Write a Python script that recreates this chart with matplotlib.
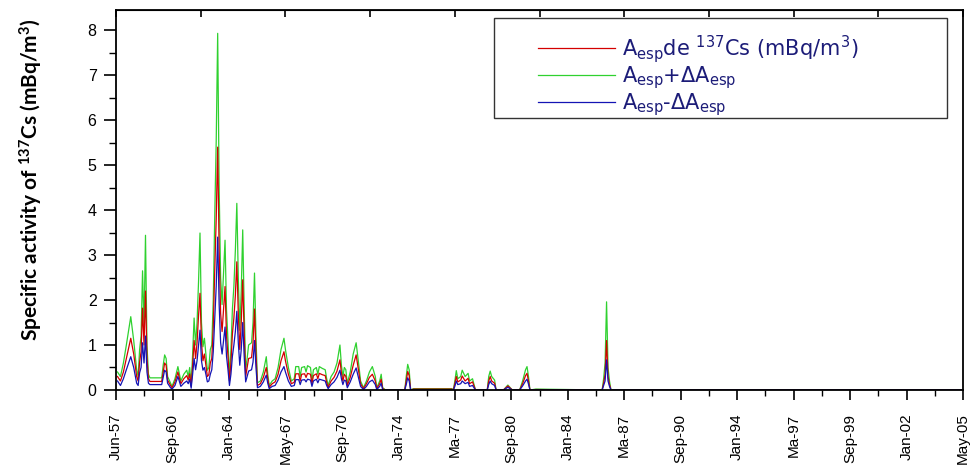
import numpy as np
import matplotlib.pyplot as plt
from matplotlib.patches import Rectangle

# month index counted from Jun-57
months = [1, 3, 5, 7, 10, 12, 14, 15, 16, 17, 18, 19, 20, 21, 22, 23, 31, 32, 33, 34,
          35, 37, 38, 40, 42, 44, 46, 48, 49, 50, 51, 52, 53, 54, 55, 56, 57, 58, 59, 60,
          61, 62, 63, 64, 65, 66, 67, 68, 69, 70, 71, 72, 73, 74, 75, 76, 77, 78, 79, 80,
          81, 82, 83, 84, 85, 86, 87, 88, 89, 90, 92, 93, 94, 95, 96, 98, 100, 102, 103, 104,
          106, 108, 110, 112, 114, 115, 117, 119, 121, 122, 124, 125, 126, 128, 129, 130, 132, 133, 134, 136,
          137, 138, 140, 142, 143, 144, 146, 148, 150, 152, 153, 154, 155, 156, 157, 159, 161, 163, 165, 166,
          168, 170, 172, 174, 176, 177, 179, 180, 181, 183, 196, 197, 198, 199, 200, 202, 228, 229, 230, 231,
          232, 234, 235, 237, 239, 240, 242, 244, 252, 253, 254, 255, 257, 258, 263, 266, 269, 274, 276, 278,
          279, 280, 281, 285, 330, 331, 332, 333, 334, 335, 336, 575]

a_up = [0.40, 0.30, 0.60, 1.00, 1.63, 1.10, 0.45, 0.30, 0.90, 1.20, 2.65, 1.40, 3.44, 1.00, 0.35, 0.27, 0.27, 0.55, 0.78, 0.70,
        0.30, 0.15, 0.08, 0.25, 0.52, 0.20, 0.35, 0.44, 0.30, 0.50, 0.12, 0.80, 1.60, 1.00, 1.50, 2.40, 3.49, 1.50, 0.96, 1.15,
        0.80, 0.44, 0.50, 0.90, 1.00, 2.00, 3.85, 5.52, 7.93, 4.50, 2.50, 1.90, 2.60, 3.33, 1.78, 1.10, 0.30, 0.90, 1.80, 2.30,
        3.10, 4.15, 2.50, 1.33, 2.20, 3.56, 1.80, 0.44, 0.70, 1.00, 1.05, 1.50, 2.60, 1.20, 0.16, 0.20, 0.40, 0.74, 0.35, 0.10,
        0.20, 0.25, 0.50, 0.90, 1.15, 0.90, 0.50, 0.20, 0.25, 0.52, 0.52, 0.30, 0.50, 0.52, 0.40, 0.54, 0.50, 0.20, 0.45, 0.50,
        0.35, 0.52, 0.48, 0.45, 0.25, 0.10, 0.30, 0.40, 0.60, 1.00, 0.55, 0.30, 0.50, 0.45, 0.15, 0.40, 0.80, 1.05, 0.50, 0.20,
        0.05, 0.20, 0.40, 0.52, 0.30, 0.05, 0.20, 0.35, 0.05, 0.00, 0.00, 0.30, 0.57, 0.45, 0.00, 0.03, 0.03, 0.00, 0.20, 0.43,
        0.25, 0.30, 0.44, 0.30, 0.37, 0.20, 0.25, 0.00, 0.00, 0.30, 0.42, 0.30, 0.22, 0.00, 0.00, 0.11, 0.00, 0.00, 0.20, 0.45,
        0.52, 0.30, 0.00, 0.02, 0.00, 0.25, 0.60, 1.96, 0.50, 0.20, 0.00, 0.00]

a_mid = [0.30, 0.20, 0.40, 0.70, 1.15, 0.80, 0.30, 0.20, 0.62, 0.85, 1.82, 1.00, 2.20, 0.70, 0.25, 0.19, 0.19, 0.40, 0.60, 0.55,
         0.22, 0.10, 0.05, 0.18, 0.40, 0.14, 0.25, 0.32, 0.22, 0.36, 0.08, 0.55, 1.10, 0.70, 1.05, 1.65, 2.15, 1.05, 0.65, 0.80,
         0.55, 0.30, 0.34, 0.60, 0.70, 1.40, 2.65, 3.80, 5.40, 3.10, 1.70, 1.30, 1.80, 2.30, 1.20, 0.75, 0.20, 0.60, 1.25, 1.60,
         2.10, 2.85, 1.70, 0.90, 1.50, 2.45, 1.25, 0.30, 0.50, 0.70, 0.72, 1.05, 1.80, 0.80, 0.10, 0.14, 0.28, 0.50, 0.25, 0.06,
         0.14, 0.18, 0.35, 0.65, 0.85, 0.65, 0.35, 0.14, 0.17, 0.36, 0.36, 0.20, 0.35, 0.36, 0.28, 0.37, 0.35, 0.14, 0.32, 0.36,
         0.25, 0.37, 0.34, 0.32, 0.17, 0.06, 0.20, 0.28, 0.42, 0.67, 0.38, 0.20, 0.35, 0.30, 0.10, 0.28, 0.55, 0.78, 0.35, 0.14,
         0.03, 0.14, 0.28, 0.35, 0.20, 0.03, 0.14, 0.24, 0.03, 0.00, 0.00, 0.20, 0.41, 0.32, 0.00, 0.02, 0.02, 0.00, 0.14, 0.30,
         0.18, 0.22, 0.31, 0.20, 0.26, 0.14, 0.18, 0.00, 0.00, 0.20, 0.30, 0.20, 0.15, 0.00, 0.00, 0.09, 0.00, 0.00, 0.14, 0.32,
         0.37, 0.20, 0.00, 0.01, 0.00, 0.15, 0.35, 1.10, 0.30, 0.12, 0.00, 0.00]

a_low = [0.20, 0.10, 0.25, 0.45, 0.74, 0.50, 0.15, 0.10, 0.38, 0.50, 1.05, 0.60, 1.20, 0.40, 0.15, 0.12, 0.12, 0.28, 0.44, 0.40,
         0.15, 0.05, 0.02, 0.10, 0.30, 0.08, 0.15, 0.20, 0.14, 0.24, 0.04, 0.35, 0.70, 0.45, 0.65, 1.00, 1.33, 0.65, 0.44, 0.50,
         0.35, 0.18, 0.20, 0.35, 0.45, 0.85, 1.60, 2.30, 3.40, 1.90, 1.05, 0.80, 1.10, 1.40, 0.75, 0.45, 0.10, 0.35, 0.75, 1.00,
         1.30, 1.75, 1.05, 0.55, 0.90, 1.50, 0.75, 0.18, 0.30, 0.42, 0.45, 0.62, 1.10, 0.50, 0.05, 0.08, 0.18, 0.33, 0.15, 0.03,
         0.08, 0.10, 0.22, 0.40, 0.52, 0.40, 0.20, 0.08, 0.10, 0.23, 0.23, 0.12, 0.22, 0.23, 0.18, 0.24, 0.22, 0.08, 0.20, 0.24,
         0.16, 0.24, 0.22, 0.20, 0.10, 0.03, 0.12, 0.18, 0.28, 0.44, 0.25, 0.12, 0.22, 0.20, 0.05, 0.18, 0.35, 0.49, 0.22, 0.08,
         0.01, 0.08, 0.18, 0.22, 0.12, 0.01, 0.08, 0.15, 0.01, 0.00, 0.00, 0.12, 0.27, 0.20, 0.00, 0.00, 0.00, 0.00, 0.08, 0.20,
         0.12, 0.14, 0.20, 0.14, 0.17, 0.08, 0.10, 0.00, 0.00, 0.12, 0.20, 0.14, 0.10, 0.00, 0.00, 0.06, 0.00, 0.00, 0.09, 0.20,
         0.24, 0.13, 0.00, 0.00, 0.00, 0.10, 0.20, 0.67, 0.20, 0.08, 0.00, 0.00]

tick_labels = ['Jun-57', 'Sep-60', 'Jan-64', 'May-67', 'Sep-70', 'Jan-74', 'Ma-77', 'Sep-80',
               'Jan-84', 'Ma-87', 'Sep-90', 'Jan-94', 'Ma-97', 'Sep-99', 'Jan-02', 'May-05']
n_months = 575

plt.rcParams['font.family'] = ['Liberation Sans', 'DejaVu Sans']
plt.rcParams['mathtext.default'] = 'regular'

fig = plt.figure(figsize=(9.71, 4.68), dpi=100)
ax = fig.add_axes([0.1195, 0.1667, 0.8723, 0.8120])

ax.plot(months, a_up, color='#2fd12f', lw=0.9, label=r'A$_{esp}$+ΔA$_{esp}$')
ax.plot(months, a_mid, color='#d40000', lw=0.9, label=r'A$_{esp}$de $^{137}$Cs (mBq/m$^{3}$)')
ax.plot(months, a_low, color='#1414b4', lw=0.9, label=r'A$_{esp}$-ΔA$_{esp}$')

ax.set_xlim(0, n_months)
ax.set_ylim(0, 8.45)

major = np.linspace(0, n_months, len(tick_labels))
ax.set_xticks(major)
ax.set_xticklabels(tick_labels, rotation=90, fontsize=11)
ax.set_xticks((major[:-1] + major[1:]) / 2, minor=True)
ax.set_yticks(range(0, 9))
ax.set_yticks(np.arange(0.5, 8.5, 1.0), minor=True)
ax.tick_params(axis='y', which='major', length=9, width=1.2, labelsize=11.5, pad=5)
ax.tick_params(axis='y', which='minor', length=5, width=1.0)
ax.tick_params(axis='x', which='major', length=7, width=1.2, pad=10)
ax.tick_params(axis='x', which='minor', length=4.5, width=1.0)
for s in ax.spines.values():
    s.set_linewidth(1.3)

top = ax.secondary_xaxis('top')
top.set_xticks(np.linspace(0, n_months, 11))
top.tick_params(direction='in', length=5, width=1.2, labeltop=False)

ax.set_ylabel(r'Specific activity of $^{137}$Cs (mBq/m$^{3}$)',
              family=['Lato', 'DejaVu Sans'], fontweight='bold',
              fontsize=15)
ax.yaxis.set_label_coords(-0.084, 0.553)

# legend box
ax.add_patch(Rectangle((0.446, 0.716), 0.535, 0.263, transform=ax.transAxes,
                       fill=True, facecolor='white', edgecolor='#333333', lw=1.0, zorder=4))
h, l = ax.get_legend_handles_labels()
order = [1, 0, 2]
leg = ax.legend([h[i] for i in order], [l[i] for i in order], loc='upper left',
                bbox_to_anchor=(0.476, 0.99), frameon=False,
                handlelength=3.7, handletextpad=0.35, labelspacing=0.0,
                prop={'family': 'DejaVu Sans', 'size': 15})
for t in leg.get_texts():
    t.set_color('#1c1c78')
leg.set_zorder(5)

fig.savefig('out.png', dpi=100)
